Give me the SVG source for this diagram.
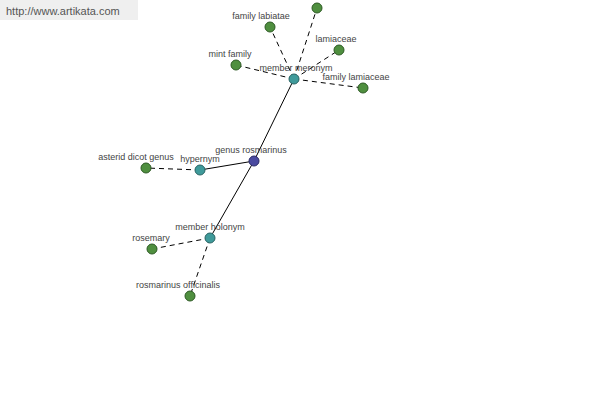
<svg xmlns="http://www.w3.org/2000/svg" width="600" height="400" viewBox="0 0 600 400">
<style>
text{font-family:"Liberation Sans",Arial,sans-serif;font-size:9px;fill:#444;text-anchor:middle}
.leaf{fill:#4f8f3f;stroke:#2d5a24;stroke-width:1}
.rel{fill:#3f9a9a;stroke:#2a6464;stroke-width:1}
.ctr{fill:#4a4aa0;stroke:#2a2a66;stroke-width:1}
.solid{stroke:#000;stroke-width:1;fill:none}
.dash{stroke:#000;stroke-width:1;fill:none;stroke-dasharray:5,4}
</style>
<rect x="0" y="0" width="138" height="20" fill="#efefef"/>
<text x="6" y="15" style="font-size:11px;text-anchor:start;fill:#555">http://www.artikata.com</text>
<g id="connectors">
<line class="solid" x1="254" y1="161" x2="294" y2="79"/>
<line class="solid" x1="254" y1="161" x2="200" y2="170"/>
<line class="solid" x1="254" y1="161" x2="210" y2="238"/>
<line class="dash" x1="294" y1="79" x2="317" y2="8"/>
<line class="dash" x1="294" y1="79" x2="270" y2="27"/>
<line class="dash" x1="294" y1="79" x2="339" y2="50"/>
<line class="dash" x1="294" y1="79" x2="236" y2="65"/>
<line class="dash" x1="294" y1="79" x2="363" y2="88"/>
<line class="dash" x1="200" y1="170" x2="146" y2="168"/>
<line class="dash" x1="210" y1="238" x2="152" y2="249"/>
<line class="dash" x1="210" y1="238" x2="190" y2="296"/>
</g>
<g id="genus-rosmarinus"><circle class="ctr" cx="254" cy="161" r="5"/><text x="251" y="153">genus rosmarinus</text></g>
<g id="member-meronym"><circle class="rel" cx="294" cy="79" r="5"/><text x="296" y="71">member meronym</text></g>
<g id="hypernym"><circle class="rel" cx="200" cy="170" r="5"/><text x="200" y="162">hypernym</text></g>
<g id="member-holonym"><circle class="rel" cx="210" cy="238" r="5"/><text x="210" y="230">member holonym</text></g>
<g id="unlabeled"><circle class="leaf" cx="317" cy="8" r="5"/></g>
<g id="family-labiatae"><circle class="leaf" cx="270" cy="27" r="5"/><text x="261" y="19">family labiatae</text></g>
<g id="lamiaceae"><circle class="leaf" cx="339" cy="50" r="5"/><text x="336" y="42">lamiaceae</text></g>
<g id="mint-family"><circle class="leaf" cx="236" cy="65" r="5"/><text x="230" y="57">mint family</text></g>
<g id="family-lamiaceae"><circle class="leaf" cx="363" cy="88" r="5"/><text x="356" y="80">family lamiaceae</text></g>
<g id="asterid-dicot-genus"><circle class="leaf" cx="146" cy="168" r="5"/><text x="136" y="160">asterid dicot genus</text></g>
<g id="rosemary"><circle class="leaf" cx="152" cy="249" r="5"/><text x="151" y="241">rosemary</text></g>
<g id="rosmarinus-officinalis"><circle class="leaf" cx="190" cy="296" r="5"/><text x="178" y="288">rosmarinus officinalis</text></g>
</svg>
